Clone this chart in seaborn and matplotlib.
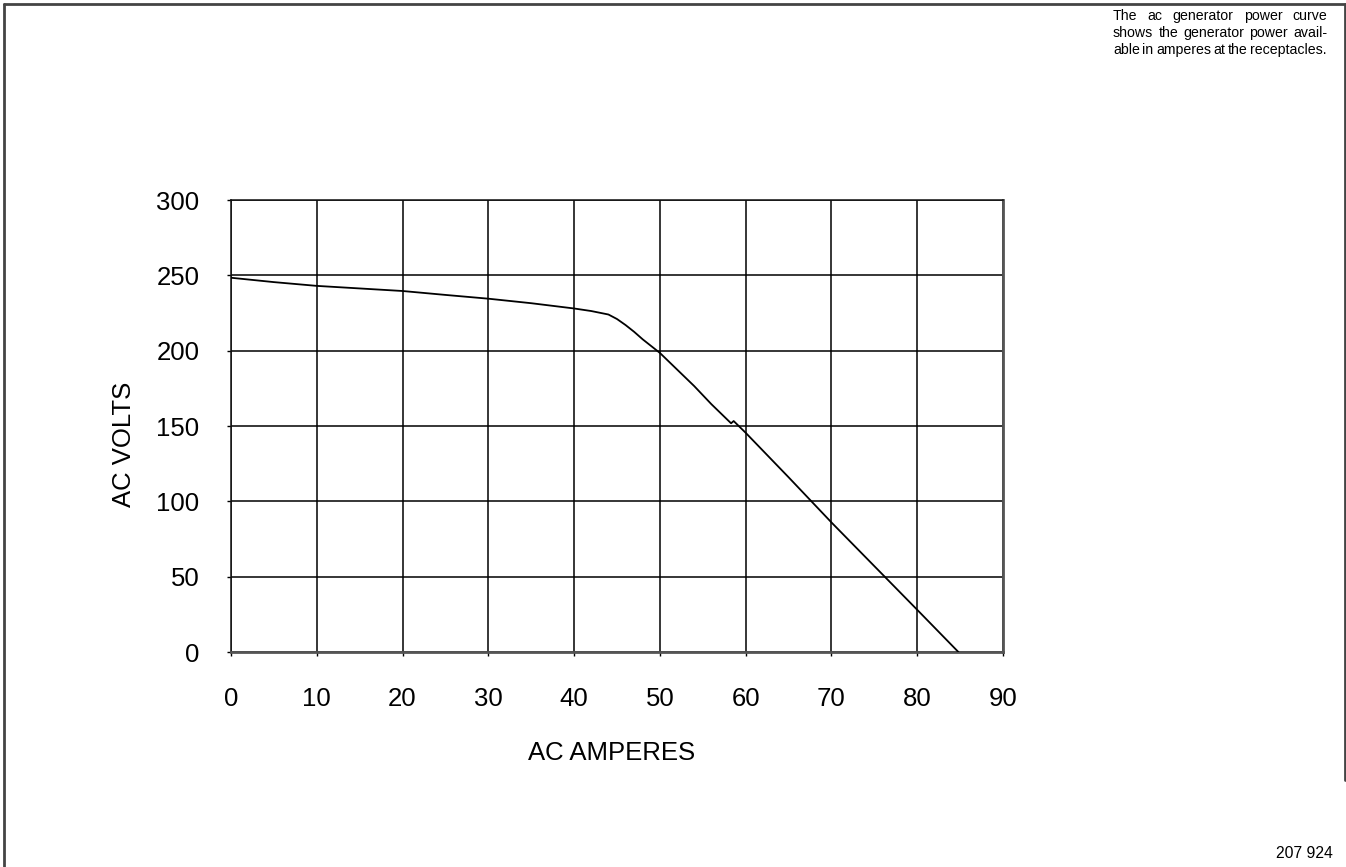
import matplotlib
matplotlib.use("Agg")
import matplotlib.pyplot as plt
from matplotlib.lines import Line2D
import pandas as pd
import seaborn as sns

# Generator output: load current (A) vs terminal voltage (V)
amps = [0, 5, 10, 15, 20, 25, 30, 35, 40, 42, 44, 45, 46, 47, 48, 50, 52, 54,
        56, 58.3, 58.6, 60, 65, 70, 75, 80, 84.8]
volts = [248.4, 245.5, 243.0, 241.3, 239.6, 237.0, 234.5, 231.5, 228.0, 226.3,
         224.0, 221.0, 217.0, 212.5, 207.5, 198.5, 187.5, 176.5,
         164.5, 151.8, 153.3, 145.5, 116.0, 86.0, 57.0, 28.0, 0.0]

x_ticks = [0, 10, 20, 30, 40, 50, 60, 70, 80, 90]
y_ticks = [0, 50, 100, 150, 200, 250, 300]

note_lines = ["The ac generator power curve",
              "shows the generator power avail-",
              "able in amperes at the receptacles."]
figure_id = "207 924"

W, H = 1346, 867

sns.set_theme(style="white", rc={"text.color": "black", "axes.labelcolor": "black",
                                 "xtick.color": "black", "ytick.color": "black"})
plt.rcParams["font.family"] = ["Liberation Sans", "DejaVu Sans"]

fig = plt.figure(figsize=(W / 100, H / 100), dpi=100)
ax = fig.add_axes([231 / W, 1 - 652 / H, 772 / W, 452 / H])

df = pd.DataFrame({"amps": amps, "volts": volts})
sns.lineplot(data=df, x="amps", y="volts", ax=ax, color="black", lw=1.3,
             estimator=None, sort=False, zorder=3)

ax.set_xlim(0, 90)
ax.set_ylim(0, 300)
ax.set_xticks(x_ticks)
ax.set_yticks(y_ticks)
ax.grid(True, color="black", lw=1.1, zorder=1)
ax.set_axisbelow(True)

ax.tick_params(axis="x", bottom=True, direction="out", length=3, width=1,
               color="black", pad=22, labelsize=18.5)
ax.tick_params(axis="y", left=True, direction="out", length=2.8, width=1,
               color="black", pad=20, labelsize=18.5)

for side in ("top", "left"):
    ax.spines[side].set_color("#111111")
    ax.spines[side].set_linewidth(1.1)
for side in ("bottom", "right"):
    ax.spines[side].set_color("#555555")
    ax.spines[side].set_linewidth(2.0)

ax.set_xlabel("AC AMPERES", fontsize=18.5)
ax.set_ylabel("AC VOLTS", fontsize=18.5)
ax.xaxis.set_label_coords(0.493, -0.197)
ax.yaxis.label.set_va("center")
ax.yaxis.set_label_coords(-0.139, 0.46)

# Page frame (left, top, right)
frame_kw = dict(transform=fig.transFigure, color="#444444", lw=2.0)
fig.add_artist(Line2D([4 / W, 4 / W], [0, 1 - 4 / H], **frame_kw))
fig.add_artist(Line2D([4 / W, 1345 / W], [1 - 4 / H, 1 - 4 / H], **frame_kw))
fig.add_artist(Line2D([1344.5 / W, 1344.5 / W], [0.1, 1 - 4 / H], **frame_kw))

# Justified caption block in the upper right
fig.canvas.draw()
renderer = fig.canvas.get_renderer()
x_left, x_right = 1113, 1327
baselines = [20, 37, 54]
for line, base in zip(note_lines, baselines):
    words = line.split()
    items = [fig.text(0, 0, w, fontsize=10.2, va="baseline", ha="left") for w in words]
    widths = [t.get_window_extent(renderer).width for t in items]
    gap = (x_right - x_left - sum(widths)) / (len(words) - 1)
    x = x_left
    for t, w in zip(items, widths):
        t.set_position((x / W, 1 - base / H))
        x += w + gap

fig.text(1333 / W, 1 - 858 / H, figure_id, fontsize=11.3, ha="right", va="baseline")

fig.savefig("out.png", dpi=100)
